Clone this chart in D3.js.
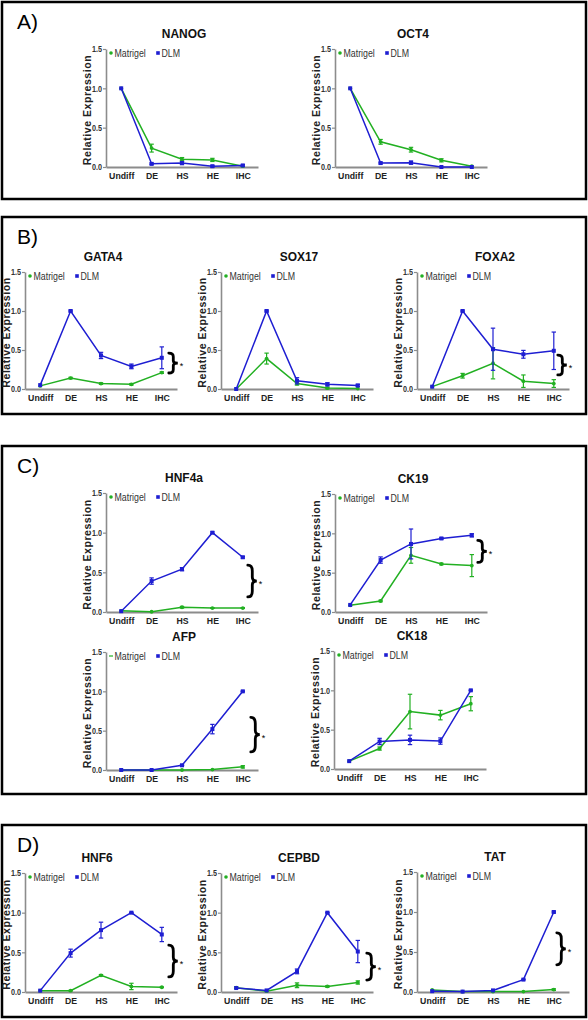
<!DOCTYPE html>
<html>
<head>
<meta charset="utf-8">
<script src="https://cdn.jsdelivr.net/npm/d3@7"></script>
<style>
  html, body { margin: 0; padding: 0; background: #fff; }
  svg { display: block; }
  .tick text { font-family: "Liberation Sans", Arial, sans-serif; }
</style>
</head>
<body>
<svg id="chart" width="588" height="1020"></svg>
<script>
// ---------------- DATA ----------------
const categories = ["Undiff", "DE", "HS", "HE", "IHC"];
const yTicks = [0, 0.5, 1.0, 1.5];
const seriesNames = ["Matrigel", "DLM"];
const panelLabels = ["A)", "B)", "C)", "D)"];

// NANOG
const nanogMatrigel = [1.0, 0.24, 0.10, 0.09, 0.01];
const nanogMatrigelErr = [0, 0.05, 0.02, 0.02, 0];
const nanogDLM = [1.0, 0.04, 0.05, 0.01, 0.02];
const nanogDLMErr = [0, 0.01, 0.02, 0.01, 0.01];
// OCT4
const oct4Matrigel = [1.0, 0.32, 0.22, 0.085, 0.01];
const oct4MatrigelErr = [0, 0.03, 0.03, 0.02, 0];
const oct4DLM = [1.0, 0.05, 0.055, 0.0, 0.0];
const oct4DLMErr = [0, 0.01, 0.02, 0, 0];
// GATA4
const gata4Matrigel = [0.04, 0.14, 0.07, 0.06, 0.21];
const gata4MatrigelErr = [0, 0.01, 0.01, 0.01, 0.01];
const gata4DLM = [0.05, 1.0, 0.43, 0.29, 0.40];
const gata4DLMErr = [0, 0.01, 0.04, 0.03, 0.14];
// SOX17
const sox17Matrigel = [0.0, 0.39, 0.07, 0.012, 0.005];
const sox17MatrigelErr = [0, 0.07, 0.02, 0.01, 0];
const sox17DLM = [0.0, 1.0, 0.105, 0.06, 0.045];
const sox17DLMErr = [0, 0.01, 0.04, 0.02, 0.015];
// FOXA2
const foxa2Matrigel = [0.03, 0.17, 0.33, 0.10, 0.07];
const foxa2MatrigelErr = [0, 0.03, 0.2, 0.08, 0.05];
const foxa2DLM = [0.03, 1.0, 0.51, 0.445, 0.49];
const foxa2DLMErr = [0, 0.01, 0.27, 0.05, 0.24];
// HNF4a
const hnf4aMatrigel = [0.015, 0.003, 0.06, 0.05, 0.05];
const hnf4aMatrigelErr = [0, 0, 0.01, 0.005, 0.005];
const hnf4aDLM = [0.01, 0.39, 0.54, 1.0, 0.69];
const hnf4aDLMErr = [0, 0.04, 0.02, 0.01, 0.01];
// CK19
const ck19Matrigel = [0.085, 0.14, 0.72, 0.61, 0.59];
const ck19MatrigelErr = [0, 0.01, 0.1, 0.01, 0.14];
const ck19DLM = [0.09, 0.66, 0.865, 0.935, 0.975];
const ck19DLMErr = [0, 0.04, 0.19, 0.01, 0.02];
// AFP
const afpMatrigel = [0, 0, 0, 0.005, 0.04];
const afpMatrigelErr = [0, 0, 0, 0, 0.015];
const afpDLM = [0, 0, 0.06, 0.52, 1.0];
const afpDLMErr = [0, 0, 0.005, 0.06, 0.005];
// CK18
const ck18Matrigel = [0.1, 0.26, 0.73, 0.685, 0.83];
const ck18MatrigelErr = [0, 0.02, 0.22, 0.06, 0.09];
const ck18DLM = [0.1, 0.35, 0.37, 0.355, 1.0];
const ck18DLMErr = [0, 0.04, 0.06, 0.04, 0.005];
// HNF6
const hnf6Matrigel = [0.017, 0.017, 0.21, 0.07, 0.06];
const hnf6MatrigelErr = [0, 0.005, 0.01, 0.04, 0.005];
const hnf6DLM = [0.017, 0.49, 0.78, 1.0, 0.725];
const hnf6DLMErr = [0, 0.05, 0.1, 0.005, 0.09];
// CEPBD
const cepbdMatrigel = [0.055, 0.01, 0.085, 0.07, 0.12];
const cepbdMatrigelErr = [0.01, 0, 0.03, 0.01, 0.02];
const cepbdDLM = [0.05, 0.02, 0.26, 1.0, 0.51];
const cepbdDLMErr = [0, 0, 0.03, 0.005, 0.14];
// TAT
const tatMatrigel = [0.025, 0.005, 0.005, 0.005, 0.03];
const tatMatrigelErr = [0, 0, 0, 0, 0.01];
const tatDLM = [0.01, 0.005, 0.02, 0.155, 1.0];
const tatDLMErr = [0, 0, 0, 0.005, 0.01];

// significance brackets (data units)
const sigGenes = ["GATA4", "FOXA2", "HNF4a", "CK19", "AFP", "HNF6", "CEPBD", "TAT"];
const sigLow  = [0.205, 0.18, 0.19, 0.63, 0.23, 0.19, 0.15, 0.34];
const sigHigh = [0.46, 0.435, 0.59, 0.91, 0.67, 0.59, 0.49, 0.74];

// ---------------- LAYOUT ----------------
const COLORS = { Matrigel: "#22b022", DLM: "#1e1ed2" };
const AXIS_COLOR = "#8c8c8c";
const FONT = "'Liberation Sans', Arial, sans-serif";
const STEP = 30.4;

const panels = [
  { label: panelLabels[0], x: 2, y: 2,   w: 584, h: 197 },
  { label: panelLabels[1], x: 2, y: 217, w: 584, h: 197 },
  { label: panelLabels[2], x: 2, y: 446, w: 584, h: 348 },
  { label: panelLabels[3], x: 2, y: 825, w: 584, h: 192 }
];

const charts = [
  { gene: "NANOG", m: nanogMatrigel, me: nanogMatrigelErr, d: nanogDLM, de: nanogDLMErr, axisX: 106, yTop: 49,  yBot: 167 },
  { gene: "OCT4",  m: oct4Matrigel,  me: oct4MatrigelErr,  d: oct4DLM,  de: oct4DLMErr,  axisX: 335, yTop: 49,  yBot: 167 },
  { gene: "GATA4", m: gata4Matrigel, me: gata4MatrigelErr, d: gata4DLM, de: gata4DLMErr, axisX: 25,  yTop: 272, yBot: 389, bdx: 7 },
  { gene: "SOX17", m: sox17Matrigel, me: sox17MatrigelErr, d: sox17DLM, de: sox17DLMErr, axisX: 221, yTop: 272, yBot: 389 },
  { gene: "FOXA2", m: foxa2Matrigel, me: foxa2MatrigelErr, d: foxa2DLM, de: foxa2DLMErr, axisX: 417, yTop: 272, yBot: 389, bdx: 4 },
  { gene: "HNF4a", m: hnf4aMatrigel, me: hnf4aMatrigelErr, d: hnf4aDLM, de: hnf4aDLMErr, axisX: 106, yTop: 493, yBot: 612, bdx: 5 },
  { gene: "CK19",  m: ck19Matrigel,  me: ck19MatrigelErr,  d: ck19DLM,  de: ck19DLMErr,  axisX: 335, yTop: 494, yBot: 612, bdx: 6 },
  { gene: "AFP",   m: afpMatrigel,   me: afpMatrigelErr,   d: afpDLM,   de: afpDLMErr,   axisX: 106, yTop: 652, yBot: 770, bdx: 8, dashLegend: true },
  { gene: "CK18",  m: ck18Matrigel,  me: ck18MatrigelErr,  d: ck18DLM,  de: ck18DLMErr,  axisX: 334, yTop: 651, yBot: 769 },
  { gene: "HNF6",  m: hnf6Matrigel,  me: hnf6MatrigelErr,  d: hnf6DLM,  de: hnf6DLMErr,  axisX: 25,  yTop: 873, yBot: 992, bdx: 7, titleDx: 72 },
  { gene: "CEPBD", m: cepbdMatrigel, me: cepbdMatrigelErr, d: cepbdDLM, de: cepbdDLMErr, axisX: 221, yTop: 873, yBot: 992, bdx: 9 },
  { gene: "TAT",   m: tatMatrigel,   me: tatMatrigelErr,   d: tatDLM,   de: tatDLMErr,   axisX: 417, yTop: 872, yBot: 992, bdx: 3 }
];

// ---------------- DRAW ----------------
const svg = d3.select("#chart");
svg.append("rect").attr("width", 588).attr("height", 1020).attr("fill", "#fff");

// panels
panels.forEach(p => {
  svg.append("rect")
    .attr("x", p.x).attr("y", p.y).attr("width", p.w).attr("height", p.h)
    .attr("fill", "none").attr("stroke", "#000").attr("stroke-width", 2.5);
  svg.append("text")
    .attr("x", p.x + 15).attr("y", p.y + 27)
    .attr("font-family", FONT)
    .attr("font-size", 21).attr("fill", "#000")
    .text(p.label);
});

function bracePath(x, t, b, w) {
  const h = b - t, mid = (t + b) / 2, xm = x + w / 2;
  return `M${x},${t} Q${xm},${t} ${xm},${t + h * 0.18} L${xm},${mid - h * 0.12} Q${xm},${mid} ${x + w},${mid}` +
         ` Q${xm},${mid} ${xm},${mid + h * 0.12} L${xm},${b - h * 0.18} Q${xm},${b} ${x},${b}`;
}

charts.forEach(c => {
  const g = svg.append("g");
  const x = d3.scalePoint().domain(categories)
    .range([c.axisX, c.axisX + STEP * categories.length]).padding(0.5);
  const y = d3.scaleLinear().domain([0, 1.5]).range([c.yBot, c.yTop]);

  // title
  g.append("text")
    .attr("transform", `translate(${c.axisX + (c.titleDx || 78)},${c.yTop - 11}) scale(0.92,1)`)
    .attr("text-anchor", "middle")
    .attr("font-family", FONT).attr("font-weight", "bold").attr("font-size", 13)
    .attr("fill", "#111").text(c.gene);

  // y axis
  const ya = g.append("g").attr("transform", `translate(${c.axisX},0)`)
    .call(d3.axisLeft(y).tickValues(yTicks).tickFormat(d3.format(".1f")).tickSize(3).tickSizeOuter(0).tickPadding(1));
  ya.select(".domain").attr("stroke", AXIS_COLOR).attr("stroke-width", 1.6);
  ya.selectAll(".tick line").attr("stroke", AXIS_COLOR).attr("stroke-width", 1.2);
  ya.selectAll(".tick text").attr("font-size", 8.5).attr("font-weight", "bold").attr("fill", "#333")
    .attr("transform", "translate(-4,0) scale(0.85,1) translate(4,0)");

  // x axis
  const xa = g.append("g").attr("transform", `translate(0,${c.yBot})`)
    .call(d3.axisBottom(x).tickSize(0).tickSizeOuter(0).tickPadding(5));
  xa.select(".domain").attr("stroke", AXIS_COLOR).attr("stroke-width", 2);
  xa.selectAll(".tick text").attr("font-size", 9.5).attr("font-weight", "bold").attr("fill", "#222")
    .attr("transform", "scale(0.92,1)");

  // y label
  g.append("text")
    .attr("transform", `translate(${c.axisX - 15},${(c.yTop + c.yBot) / 2 + 2}) rotate(-90)`)
    .attr("text-anchor", "middle")
    .attr("font-family", FONT).attr("font-weight", "bold")
    .attr("font-size", 10.5).attr("letter-spacing", 0.55).attr("fill", "#222")
    .text("Relative Expression");

  // legend
  const ly = c.yTop + 4;
  seriesNames.forEach((s, i) => {
    const lx = c.axisX + 5 + i * 47;
    if (s === "Matrigel" && c.dashLegend) {
      g.append("line").attr("x1", lx - 2).attr("x2", lx + 2).attr("y1", ly).attr("y2", ly)
        .attr("stroke", COLORS[s]).attr("stroke-width", 1.2);
    } else if (s === "Matrigel") {
      g.append("circle").attr("cx", lx).attr("cy", ly).attr("r", 1.8).attr("fill", COLORS[s]);
    } else {
      g.append("rect").attr("x", lx - 1.8).attr("y", ly - 1.8).attr("width", 3.6).attr("height", 3.6).attr("fill", COLORS[s]);
    }
    g.append("text").attr("transform", `translate(${lx + 3.5},${ly + 3.8}) scale(0.8,1)`)
      .attr("font-family", FONT).attr("font-size", 11).attr("fill", "#333").text(s);
  });

  // series
  const series = [
    { name: "Matrigel", vals: c.m, errs: c.me },
    { name: "DLM", vals: c.d, errs: c.de }
  ];
  series.forEach(s => {
    const col = COLORS[s.name];
    const pts = categories.map((cat, i) => ({ cat, v: s.vals[i], e: s.errs[i] }));
    // error bars
    pts.filter(p => p.e > 0.004).forEach(p => {
      const px = x(p.cat), y1 = y(p.v + p.e), y2 = y(Math.max(0, p.v - p.e));
      g.append("line").attr("x1", px).attr("x2", px).attr("y1", y1).attr("y2", y2)
        .attr("stroke", col).attr("stroke-width", 1.2);
      [y1, y2].forEach(yy => g.append("line").attr("x1", px - 2.2).attr("x2", px + 2.2)
        .attr("y1", yy).attr("y2", yy).attr("stroke", col).attr("stroke-width", 1.2));
    });
    g.append("path").datum(pts)
      .attr("d", d3.line().x(p => x(p.cat)).y(p => y(p.v)))
      .attr("fill", "none").attr("stroke", col).attr("stroke-width", 1.5);
    if (s.name === "Matrigel") {
      g.selectAll(null).data(pts).enter().append("circle")
        .attr("cx", p => x(p.cat)).attr("cy", p => y(p.v)).attr("r", 1.9).attr("fill", col);
    } else {
      g.selectAll(null).data(pts).enter().append("rect")
        .attr("x", p => x(p.cat) - 2).attr("y", p => y(p.v) - 2)
        .attr("width", 4).attr("height", 4).attr("fill", col);
    }
  });

  // significance bracket
  const si = sigGenes.indexOf(c.gene);
  if (si >= 0) {
    const bx = x(categories[categories.length - 1]) + c.bdx;
    const t = y(sigHigh[si]), b = y(sigLow[si]);
    g.append("path").attr("d", bracePath(bx, t, b, 9))
      .attr("fill", "none").attr("stroke", "#000").attr("stroke-width", 2.8)
      .attr("stroke-linecap", "round");
    g.append("text").attr("x", bx + 11).attr("y", (t + b) / 2 + 6)
      .attr("font-family", FONT).attr("font-size", 9).attr("fill", "#000")
      .text("*");
  }
});
</script>
</body>
</html>
